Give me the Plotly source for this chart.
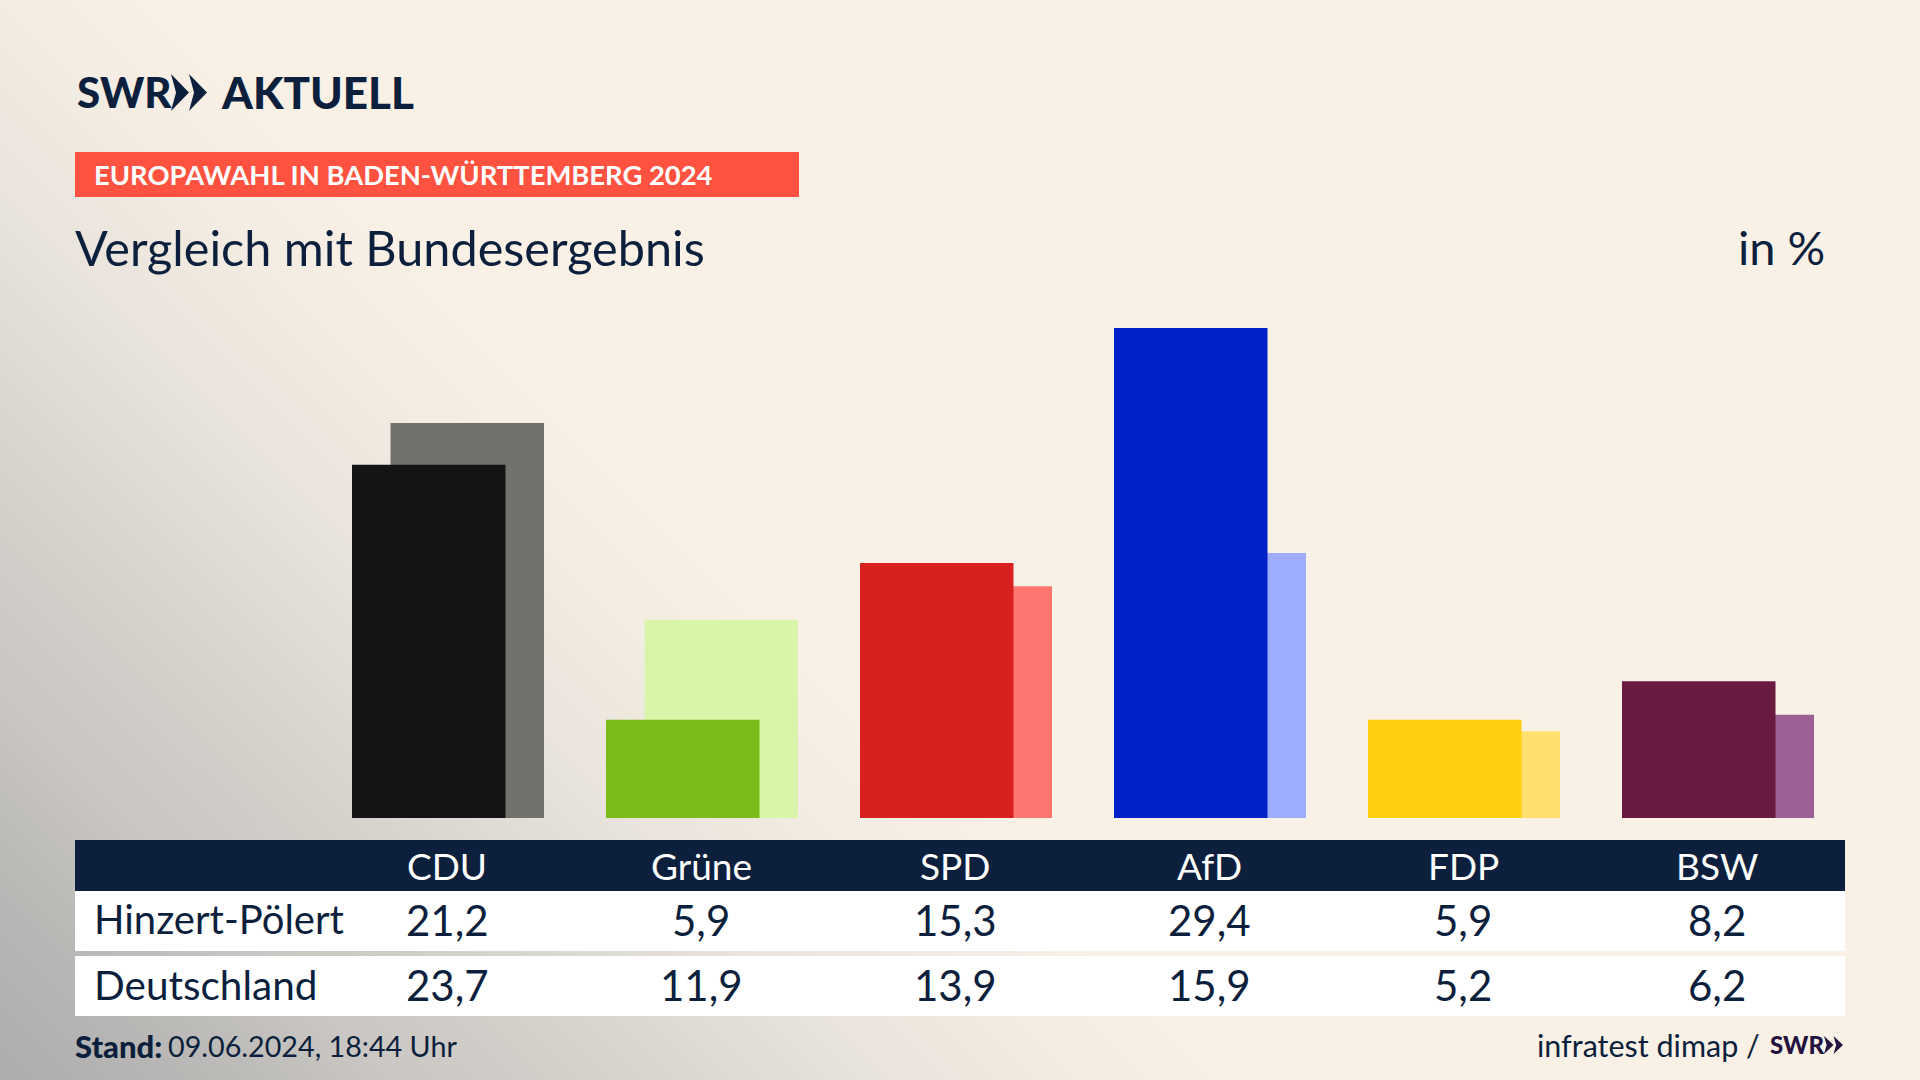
import plotly.graph_objects as go

W, H = 1920, 1080

PARTIES = ["CDU", "Grüne", "SPD", "AfD", "FDP", "BSW"]
LAND_LABEL = "Hinzert-Pölert"
BUND_LABEL = "Deutschland"
LAND = [21.2, 5.9, 15.3, 29.4, 5.9, 8.2]
BUND = [23.7, 11.9, 13.9, 15.9, 5.2, 6.2]
LAND_COLORS = ["#141414", "#7ABD18", "#D8201F", "#0020C8", "#FFCE0C", "#6A1A40"]
BUND_COLORS = ["#72716E", "#D8F5AA", "#FF7670", "#9DACFF", "#FFE06E", "#9C6096"]

NAVY = "#0C1F3D"
FONT = "Lato"

# one party step is 254px, bars are 153.5px wide and shifted 38.5px against each other
STEP = 254
BAR_W = 153.5 / STEP
SHIFT = 38.5 / STEP
GROUP0_X = 448


def fmt(v):
    return f"{v:.1f}".replace(".", ",")


def px(x):
    return x / W


def py(y):
    return 1 - y / H


def label(text, x, y, size, color=NAVY, anchor="center", weight=400):
    return dict(
        text=text,
        x=px(x),
        y=py(y),
        xref="paper",
        yref="paper",
        xanchor=anchor,
        yanchor="middle",
        showarrow=False,
        font=dict(family=FONT, size=size, color=color, weight=weight),
    )


def rect(x0, y0, x1, y1, color):
    return dict(
        type="rect",
        xref="paper",
        yref="paper",
        x0=px(x0),
        x1=px(x1),
        y0=py(y0),
        y1=py(y1),
        fillcolor=color,
        line_width=0,
        layer="below",
    )


def chevrons(x, top, bottom, width, color):
    # the two arrows of the SWR logo
    mid = (top + bottom) / 2
    shapes = []
    for i in range(2):
        a = x + i * width
        path = (
            f"M {px(a)},{py(top)} L {px(a + width)},{py(mid)} L {px(a)},{py(bottom)} "
            f"L {px(a + width * 0.28)},{py(mid)} Z"
        )
        shapes.append(dict(type="path", xref="paper", yref="paper", path=path, fillcolor=color, line_width=0))
    return shapes


fig = go.Figure()

fig.add_trace(
    go.Bar(
        x=PARTIES,
        y=BUND,
        name=BUND_LABEL,
        width=BAR_W,
        offset=-BAR_W / 2 + SHIFT / 2,
        marker=dict(color=BUND_COLORS, line_width=0),
    )
)
fig.add_trace(
    go.Bar(
        x=PARTIES,
        y=LAND,
        name=LAND_LABEL,
        width=BAR_W,
        offset=-BAR_W / 2 - SHIFT / 2,
        marker=dict(color=LAND_COLORS, line_width=0),
    )
)

shapes = [
    rect(75, 152, 799, 197, "#FF5240"),
    rect(75, 840, 1845, 891, NAVY),
    rect(75, 891, 1845, 951, "#FFFFFF"),
    rect(75, 956, 1845, 1016, "#FFFFFF"),
]
shapes += chevrons(171, 74, 111, 18, NAVY)
shapes += chevrons(1824, 1036, 1054, 9.5, "#24123F")

annotations = [
    label("SWR", 75, 92, 42, anchor="left", weight=900),
    label("AKTUELL", 219, 92, 44, anchor="left", weight=900),
    label("EUROPAWAHL IN BADEN-WÜRTTEMBERG 2024", 92, 174.5, 27.4, color="#FFFFFF", anchor="left", weight=700),
    label("Vergleich mit Bundesergebnis", 73, 247, 48.6, anchor="left"),
    label("in %", 1827, 247.5, 47, anchor="right"),
    label(LAND_LABEL, 92, 919, 40, anchor="left"),
    label(BUND_LABEL, 92, 984, 40.5, anchor="left"),
    label("Stand:", 73, 1046, 31, anchor="left", weight=900),
    label("09.06.2024, 18:44 Uhr", 166, 1046, 28.7, anchor="left"),
    label("infratest dimap /", 1762, 1045, 30.5, anchor="right"),
    label("SWR", 1768, 1044, 24, color="#24123F", anchor="left", weight=900),
]
for i, party in enumerate(PARTIES):
    cx = GROUP0_X + i * STEP
    annotations.append(label(party, cx - 1, 865, 37, color="#FFFFFF"))
    annotations.append(label(fmt(LAND[i]), cx - 1, 920, 42))
    annotations.append(label(fmt(BUND[i]), cx - 1, 985, 42))

fig.update_layout(
    width=W,
    height=H,
    margin=dict(l=0, r=0, t=0, b=0),
    barmode="overlay",
    showlegend=False,
    paper_bgcolor="rgba(0,0,0,0)",
    plot_bgcolor="rgba(0,0,0,0)",
    shapes=shapes,
    annotations=annotations,
    xaxis=dict(
        domain=[0, 1],
        range=[-GROUP0_X / STEP, (W - GROUP0_X) / STEP],
        type="category",
        categoryorder="array",
        categoryarray=PARTIES,
        visible=False,
    ),
    yaxis=dict(domain=[py(818), py(318)], range=[0, 30], visible=False),
)

# the backdrop is a diagonal gradient out of the lower left corner
page_css = """
document.body.style.margin = '0';
document.body.style.background =
  'linear-gradient(45deg, #ADADAD 0%, #B8B7B5 6.2%, #C9C6C3 13%, #D5D2CC 20%, #DFDBD5 25%, #E8E3DC 29%, #F0E9E0 34%, #F3ECE2 36%, #FAF1E6 42%) 0 0 / 1920px 1080px no-repeat, #FAF1E6';
"""

fig.write_html("out.html", config={"displayModeBar": False}, post_script=page_css)
